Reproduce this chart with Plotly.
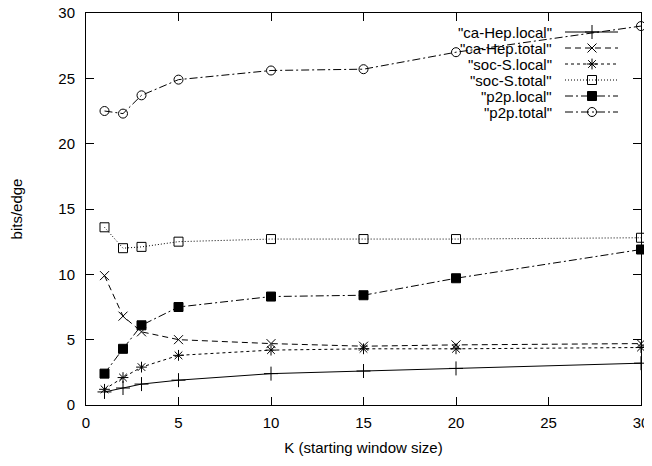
import plotly.graph_objects as go

K = [1, 2, 3, 5, 10, 15, 20, 30]
names = ['"ca-Hep.local"', '"ca-Hep.total"', '"soc-S.local"', '"soc-S.total"', '"p2p.local"', '"p2p.total"']
ca_hep_local = [1.0, 1.3, 1.6, 1.9, 2.4, 2.6, 2.8, 3.2]
ca_hep_total = [9.9, 6.8, 5.6, 5.0, 4.7, 4.5, 4.6, 4.7]
soc_s_local = [1.2, 2.1, 2.9, 3.8, 4.2, 4.3, 4.3, 4.4]
soc_s_total = [13.6, 12.0, 12.1, 12.5, 12.7, 12.7, 12.7, 12.8]
p2p_local = [2.4, 4.3, 6.1, 7.5, 8.3, 8.4, 9.7, 11.9]
p2p_total = [22.5, 22.3, 23.7, 24.9, 25.6, 25.7, 27.0, 29.0]
series = [ca_hep_local, ca_hep_total, soc_s_local, soc_s_total, p2p_local, p2p_total]

x_ticks = [0, 5, 10, 15, 20, 25, 30]
y_ticks = [0, 5, 10, 15, 20, 25, 30]

styles = [
    dict(dash="solid", symbol="cross-thin-open", size=10),
    dict(dash="6px,4px", symbol="x-thin-open", size=9),
    dict(dash="3px,3px", symbol="asterisk-open", size=9),
    dict(dash="1px,2px", symbol="square-open", size=9),
    dict(dash="8px,3px,2px,3px", symbol="square", size=9),
    dict(dash="8px,3px,2px,3px", symbol="circle-open", size=9),
]

FS = 15
OFF = 8  # default page body margin

fig = go.Figure()
for ys, nm, st in zip(series, names, styles):
    fig.add_trace(go.Scatter(
        x=K, y=ys, mode="lines+markers", name=nm, showlegend=False,
        line=dict(color="black", width=1, dash=st["dash"]),
        marker=dict(symbol=st["symbol"], size=st["size"], color="black",
                    line=dict(color="black", width=1)),
        cliponaxis=False,
    ))

# plot area in page pixels
L, R, T, B = 86, 641, 13, 405
key_y0 = 32
key_dy = 16
for i, (nm, st) in enumerate(zip(names, styles)):
    yy = key_y0 + i * key_dy
    fig.add_trace(go.Scatter(
        x=[565, 592, 618], y=[yy, yy, yy], xaxis="x2", yaxis="y2",
        mode="lines", showlegend=False, hoverinfo="skip",
        line=dict(color="black", width=1, dash=st["dash"]),
    ))
    fig.add_trace(go.Scatter(
        x=[592], y=[yy], xaxis="x2", yaxis="y2", mode="markers",
        showlegend=False, hoverinfo="skip",
        marker=dict(symbol=st["symbol"], size=st["size"], color="black",
                    line=dict(color="black", width=1)),
    ))
    fig.add_annotation(x=554, y=yy, xref="x2", yref="y2", text=nm,
                       showarrow=False, xanchor="right", yanchor="middle",
                       font=dict(size=FS, color="black"))

axis_common = dict(
    showgrid=False, zeroline=False, showline=True, linecolor="black",
    linewidth=1, mirror="allticks", ticks="inside", ticklen=8,
    tickcolor="black", tickfont=dict(size=FS, color="black"),
    automargin=False, ticklabeloverflow="allow",
)
W, H = 652 - OFF, 466 - OFF
fig.update_layout(
    width=W, height=H,
    margin=dict(l=L - OFF, r=652 - R, t=T - OFF, b=466 - B),
    plot_bgcolor="white", paper_bgcolor="white",
    font=dict(family="Liberation Sans, Arial, sans-serif", size=FS, color="black"),
    xaxis=dict(range=[0, 30], tickvals=x_ticks, ticklabelstandoff=4,
               title=dict(text="K (starting window size)", standoff=12,
                          font=dict(size=FS)), **axis_common),
    yaxis=dict(range=[0, 30], tickvals=y_ticks, ticklabelstandoff=7,
               title=dict(text="bits/edge", standoff=36, font=dict(size=FS)),
               **axis_common),
    xaxis2=dict(overlaying="x", range=[L, R], visible=False),
    yaxis2=dict(overlaying="y", range=[B, T], visible=False),
)

fig.write_html("out.html")
